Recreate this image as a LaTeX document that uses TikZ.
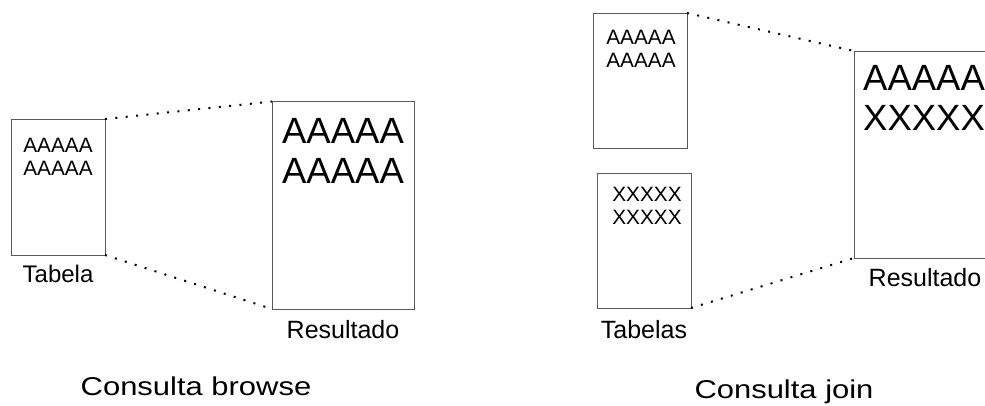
\documentclass[tikz,border=0pt]{standalone}
\usepackage{fontspec}
\setmainfont{Liberation Sans}
\usetikzlibrary{calc}

\tikzset{
  sheet/.style={draw=black!65, line width=0.9bp, fill=white, inner sep=0pt, outer sep=0pt},
  link/.style={line width=2bp, dash pattern=on 2bp off 8.4bp, line cap=butt, black},
  smalltxt/.style={anchor=north, inner sep=0pt, align=center, font=\fontsize{20.8bp}{23bp}\selectfont},
  bigtxt/.style={anchor=north, inner sep=0pt, align=center, font=\fontsize{36.5bp}{40.5bp}\selectfont},
  lbl/.style={anchor=north, inner sep=0pt, font=\fontsize{25bp}{30bp}\selectfont},
  caption/.style={anchor=base, inner sep=0pt, font=\fontsize{25.8bp}{30bp}\selectfont}
}

\begin{document}
\begin{tikzpicture}[x=1bp, y=-1bp]
  \useasboundingbox (0,0) rectangle (985,405);
  \clip (0,0) rectangle (985,405);

  % browse query: one table, one result
  \node[sheet, minimum width=94bp, minimum height=136bp] (tab) at (58,187) {};
  \node[sheet, minimum width=142bp, minimum height=207.5bp] (res) at (343,205.25) {};
  \draw[link] (tab.north east) -- (res.north west);
  \draw[link] (tab.south east) -- (res.south west);

  \node[smalltxt] (tabtxt) at ($(tab.north)+(0,19)$) {AAAAA\\AAAAA};
  \node[bigtxt] (restxt) at ($(res.north)+(0,16.5)$) {AAAAA\\AAAAA};

  \node[lbl, font=\fontsize{24bp}{30bp}\selectfont] (tablbl) at ($(tab.south)+(0,9.5)$) {Tabela};
  \node[lbl] (reslbl) at ($(res.south)+(0,11)$) {Resultado};
  \node[caption] (capa) at (196,395) {\scalebox{1.2}[1]{Consulta browse}};

  % join query: two tables, one result
  \node[sheet, minimum width=94bp, minimum height=135bp] (ta) at (640,80.5) {};
  \node[sheet, minimum width=94bp, minimum height=135bp] (tb) at (644,240.5) {};
  \node[sheet, minimum width=142bp, minimum height=207bp] (jr) at (925,154.5) {};
  \draw[link] (ta.north east) -- (jr.north west);
  \draw[link] (tb.south east) -- (jr.south west);

  \node[smalltxt] (tatxt) at ($(ta.north)+(1,17)$) {AAAAA\\AAAAA};
  \node[smalltxt] (tbtxt) at ($(tb.north)+(3,13.7)$) {XXXXX\\XXXXX};
  \node[bigtxt, anchor=north west] (jrtxt) at ($(jr.north west)+(9,14)$) {AAAAA\\XXXXX};

  \node[lbl] (tblbl) at ($(tb.south)+(0,12)$) {Tabelas};
  \node[lbl] (jrlbl) at ($(jr.south)+(0,10)$) {Resultado};
  \node[caption] (capb) at (784,398) {\scalebox{1.2}[1]{Consulta join}};
\end{tikzpicture}
\end{document}
